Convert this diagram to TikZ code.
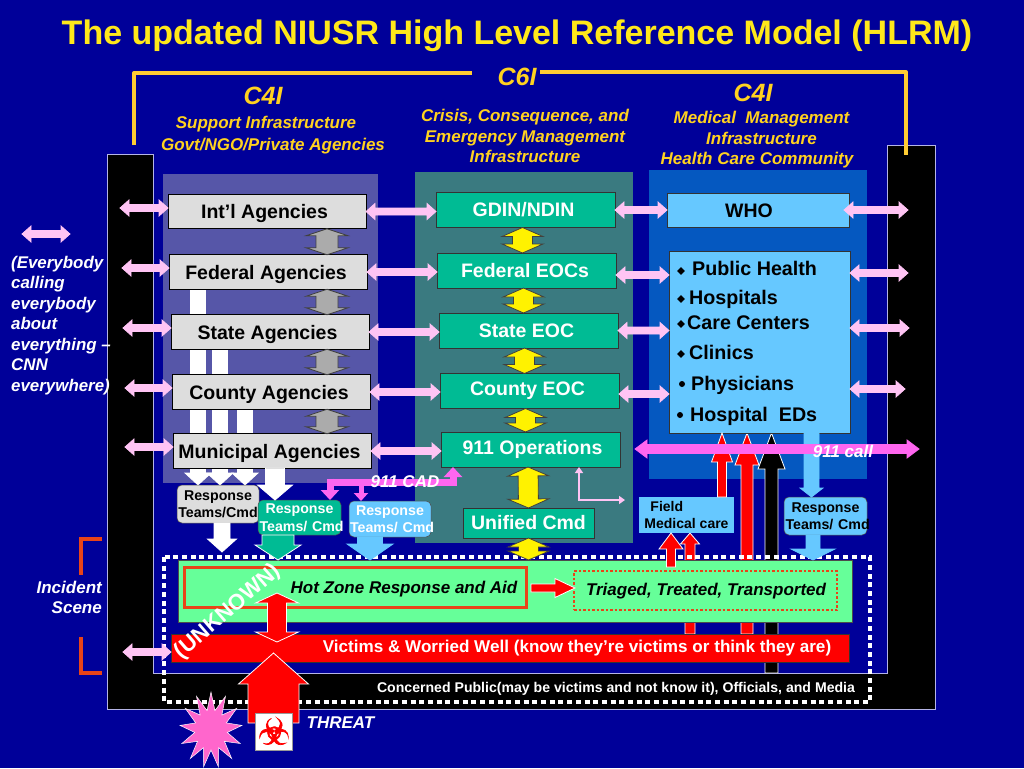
\documentclass[tikz,border=0pt]{standalone}
\usepackage{fontspec}
\setmainfont{Liberation Sans}
\newfontfamily\symfont[FakeBold=2]{DejaVu Sans}
\usepackage{xcolor}
\usepackage{tikz}
\usetikzlibrary{arrows.meta,positioning,calc,backgrounds,shapes.geometric}
\definecolor{bgNavy}{HTML}{000099}
\definecolor{titleGold}{HTML}{FFE81A}
\definecolor{headGold}{HTML}{FFD21F}
\definecolor{bracketGold}{HTML}{FFCC33}
\definecolor{frameLine}{HTML}{B4B4E6}
\definecolor{slatePanel}{HTML}{5656A8}
\definecolor{tealPanel}{HTML}{3A7A80}
\definecolor{bluePanel}{HTML}{0558C0}
\definecolor{boxGray}{HTML}{DDDDDD}
\definecolor{boxGreen}{HTML}{00BB94}
\definecolor{boxSky}{HTML}{66C8FF}
\definecolor{pinkLine}{HTML}{FFC4F4}
\definecolor{magLine}{HTML}{FF66F0}
\definecolor{hotGreen}{HTML}{66FF99}
\definecolor{hotRed}{HTML}{E84418}
\definecolor{burstPink}{HTML}{FF66CC}
\newcommand{\fsz}[2]{\fontsize{#1}{#2}\selectfont}
% fill, outline, half shaft, half head, head length
\tikzset{
  oneway/.style n args={5}{draw=#2,fill=#1,line width=0.8pt,line join=miter,
    to path={-- ($(\tikztostart)!#3pt!90:(\tikztotarget)$)
      -- ($($(\tikztotarget)!#5pt!(\tikztostart)$)!#3pt!90:(\tikztotarget)$)
      -- ($($(\tikztotarget)!#5pt!(\tikztostart)$)!#4pt!90:(\tikztotarget)$)
      -- (\tikztotarget)
      -- ($($(\tikztotarget)!#5pt!(\tikztostart)$)!#4pt!-90:(\tikztotarget)$)
      -- ($($(\tikztotarget)!#5pt!(\tikztostart)$)!#3pt!-90:(\tikztotarget)$)
      -- ($(\tikztostart)!#3pt!-90:(\tikztotarget)$) -- cycle}},
  twoway/.style n args={5}{draw=#2,fill=#1,line width=0.8pt,line join=miter,
    to path={-- ($($(\tikztostart)!#5pt!(\tikztotarget)$)!#4pt!90:(\tikztotarget)$)
      -- ($($(\tikztostart)!#5pt!(\tikztotarget)$)!#3pt!90:(\tikztotarget)$)
      -- ($($(\tikztotarget)!#5pt!(\tikztostart)$)!#3pt!90:(\tikztotarget)$)
      -- ($($(\tikztotarget)!#5pt!(\tikztostart)$)!#4pt!90:(\tikztotarget)$)
      -- (\tikztotarget)
      -- ($($(\tikztotarget)!#5pt!(\tikztostart)$)!#4pt!-90:(\tikztotarget)$)
      -- ($($(\tikztotarget)!#5pt!(\tikztostart)$)!#3pt!-90:(\tikztotarget)$)
      -- ($($(\tikztostart)!#5pt!(\tikztotarget)$)!#3pt!-90:(\tikztotarget)$)
      -- ($($(\tikztostart)!#5pt!(\tikztotarget)$)!#4pt!-90:(\tikztotarget)$) -- cycle}},
  pinkarrow/.style={twoway={pinkLine}{pinkLine}{3.5}{8}{9}},
  grayarrow/.style={twoway={black!33}{black!75}{11}{21}{7}},
  yellowarrow/.style={twoway={yellow}{black!75}{10}{20.5}{9}},
  agencybox/.style={draw=black,line width=0.8pt,fill=boxGray,inner sep=0pt,outer sep=0pt,
    minimum width=198pt,minimum height=34.5pt,text height=14pt,text depth=0pt,font=\bfseries\fsz{19.5}{22}},
  eocbox/.style={draw=black!80,line width=0.8pt,fill=boxGreen,text=white,inner sep=0pt,outer sep=0pt,
    minimum width=179pt,minimum height=35pt,font=\bfseries\fsz{19.5}{22}},
  skybox/.style={draw=black!80,line width=0.8pt,fill=boxSky,inner sep=0pt,outer sep=0pt,font=\bfseries},
  respbox/.style={draw=black!70,line width=0.5pt,rounded corners=5pt,inner sep=0pt,outer sep=0pt,
    minimum height=36pt,text width=80pt,align=center,font=\bfseries\fsz{14.2}{17.5}},
  headtext/.style={text=headGold,font=\bfseries\itshape\fsz{17}{20.5},align=center,inner sep=0pt},
  c4text/.style={text=headGold,font=\bfseries\itshape\fsz{25}{28},inner sep=0pt},
  listtext/.style={anchor=mid west,font=\bfseries\fsz{19.7}{22},inner sep=0pt},
  whitetext/.style={text=white,font=\bfseries\itshape\fsz{17}{20},inner sep=0pt}
}
\begin{document}
\begin{tikzpicture}[x=1pt,y=-1pt]
\useasboundingbox (0,0) rectangle (1024,768);

% title and headers
\node[text=titleGold,font=\bfseries\fsz{34}{38},inner sep=0pt] (titleText) at (517,36) {The updated NIUSR High Level Reference Model (HLRM)};
\node[c4text] (c6Head) at (517,77) {C6I};
\node[c4text] (c4Left) at (263,96) {C4I};
\node[c4text] (c4Right) at (753,93) {C4I};
\node[headtext] (suppText) at (273,135) {\hspace*{-14pt}Support Infrastructure\\[1.5pt]Govt/NGO/Private Agencies};
\node[headtext] (crisisText) at (525,136) {Crisis, Consequence, and\\Emergency Management\\Infrastructure};
\node[headtext] (medText) at (757,140) {\hspace*{9pt}Medical\ \ Management\\\hspace*{9pt}Infrastructure\\Health Care Community};

% agencies
\node[agencybox] (intlBox) at (267,211.5) {Int’l Agencies\hspace*{5pt}};
\node[agencybox] (fedBox) at (268,272) {Federal Agencies\hspace*{4pt}};
\node[agencybox] (stateBox) at (270,332) {State Agencies\hspace*{5pt}};
\node[agencybox] (countyBox) at (271,392) {County Agencies\hspace*{4pt}};
\node[agencybox] (muniBox) at (272,451) {Municipal Agencies\hspace*{5pt}};
% EOCs
\node[eocbox] (gdinBox) at (525.5,210) {GDIN/NDIN\hspace*{4pt}};
\node[eocbox] (fedEoc) at (526.5,270.5) {Federal EOCs\hspace*{3pt}};
\node[eocbox] (stateEoc) at (528.5,330.5) {State EOC\hspace*{4pt}};
\node[eocbox] (countyEoc) at (529.5,391) {County EOC\hspace*{4pt}};
\node[eocbox] (opsBox) at (530.5,449.5) {\hspace*{4pt}911 Operations};
\node[eocbox,minimum width=131pt,minimum height=30pt] (unifiedBox) at (528.5,523) {Unified Cmd};
% medical side
\node[skybox,minimum width=182pt,minimum height=34pt,text height=14pt,text depth=0pt,font=\bfseries\fsz{19.5}{22}] (whoBox) at (758,210) {WHO\hspace*{18pt}};
\node[skybox,minimum width=181pt,minimum height=182pt] (listBox) at (759.5,342) {};
\foreach \nm/\x/\y/\txt in {pubHealth/692/273/Public Health,hospText/689/302/Hospitals,careText/687/327/Care Centers,clinicText/689/357/Clinics,physText/691/388/Physicians,edsText/690/419/Hospital\ \ EDs}
  \node[listtext] (\nm) at (\x,\y) {\txt};
\foreach \nm/\x/\y in {dotA/681/271,dotB/681/299,dotC/681/324,dotD/681/354}
  \node[diamond,fill=black,inner sep=0pt,minimum size=8pt] (\nm) at (\x,\y) {};
\foreach \nm/\x/\y in {dotE/682/384,dotF/680/415}
  \node[circle,fill=black,inner sep=0pt,minimum size=6pt] (\nm) at (\x,\y) {};

% response teams
\node[respbox,fill=boxGray,minimum width=82pt,minimum height=38pt] (respGray) at (218,504) {Response\\Teams/Cmd};
\node[respbox,fill=boxGreen,text=white,minimum width=83pt,minimum height=35pt] (respGreen) at (299.5,517.5) {Response\\Teams/~Cmd};
\node[respbox,fill=boxSky,text=white,minimum width=82pt] (respBlue) at (390,519) {Response\\Teams/~Cmd};
\node[respbox,fill=boxSky,minimum width=83pt,minimum height=38pt] (respRight) at (825.5,516) {Response\\Teams/~Cmd};
\node[skybox,minimum width=95pt,minimum height=36pt,align=left,font=\bfseries\fsz{14}{17.5},draw=none] (fieldBox) at (686.5,515) {\hspace*{6pt}Field\\Medical care};

% incident scene
\node[draw=black!70,line width=0.8pt,fill=hotGreen,minimum width=674pt,minimum height=62pt,inner sep=0pt,outer sep=0pt] (hotZone) at (515,591) {};
\node[draw=hotRed,line width=3pt,minimum width=342pt,minimum height=40pt,inner sep=0pt,outer sep=0pt] (hotInner) at (355,587) {};
\node[font=\bfseries\itshape\fsz{17}{20},inner sep=0pt] (hotText) at (404,589) {Hot Zone Response and Aid};
\node[draw=hotRed,line width=2.5pt,dotted,minimum width=263pt,minimum height=39pt,inner sep=0pt,outer sep=0pt] (triageBox) at (705.5,590.5) {};
\node[font=\bfseries\itshape\fsz{17}{20},inner sep=0pt] (triageText) at (706,591) {Triaged, Treated, Transported};
\node[draw=black!80,line width=0.8pt,fill=red,minimum width=678pt,minimum height=28pt,inner sep=0pt,outer sep=0pt] (victimBar) at (510,648) {};
\node[text=white,font=\bfseries\fsz{17.1}{20},inner sep=0pt] (victimText) at (577,648.5) {Victims \& Worried Well (know they’re victims or think they are)};
\node[text=white,font=\bfseries\fsz{14.1}{16},inner sep=0pt] (publicText) at (616,688.5) {Concerned Public(may be victims and not know it), Officials, and Media};

% free ends
\foreach \nm/\x/\y in {legL/22/234,legR/70/234,blA/120/208,blB/122/268,blC/123/328,blD/125/388,blE/125/447,blF/123/652,
  brA/908/210,brB/908/273,brC/909/328,brD/905/389,cadL/330/482,cadM/361/482,cadR/453/482,callL/635/449,callR/919/449,
  lPink/579/500,lPinkEnd/625/500,redTop/277/593,redBot/277/642,threatBase/273.5/723,threatTip/273.5/653,
  blackBase/771.5/673,redFoot/671/567,whiteTip/222/552,hotArrowA/531/588,hotArrowB/575/588}
  \coordinate (\nm) at (\x,\y);

% all of this stays behind the boxes
\begin{scope}[on background layer]
\fill[bgNavy] (0,0) rectangle (1024,768);
% black frame and the three panels
\filldraw[fill=black,draw=frameLine,line width=1pt] (107,154) -- (153,154) -- (153,673) -- (887,673)
  -- (887,145) -- (935,145) -- (935,709) -- (107,709) -- cycle;
\fill[slatePanel] (163,174) rectangle (378,483);
\fill[tealPanel] (415,172) rectangle (633,543);
\fill[bluePanel] (649,170) rectangle (867,479);
% gold bracket
\draw[bracketGold,line width=4pt,line join=round] (134,145) -- (134,73) -- (472,73);
\draw[bracketGold,line width=4pt,line join=round] (540,72) -- (906,72) -- (906,155);
% red brackets for the scene
\draw[hotRed,line width=3.5pt] (102,539) -- (81,539) -- (81,575);
\draw[hotRed,line width=3.5pt] (81,637) -- (81,673) -- (102,673);
% long arrows
\draw[oneway={white}{white}{7.5}{13}{12}] ([xshift=-70pt]fedBox.south) to ([xshift=-70pt]fedBox.south |- respGray.north);
\draw[oneway={white}{white}{7.5}{13}{12}] ([xshift=-50pt]stateBox.south) to ([xshift=-50pt]stateBox.south |- respGray.north);
\draw[oneway={white}{white}{7.5}{13}{12}] ([xshift=-26pt]countyBox.south) to ([xshift=-26pt]countyBox.south |- respGray.north);
\draw[oneway={red}{white}{5}{9.5}{11}] ([xshift=-69.5pt]listBox.south |- victimBar.north) to ([xshift=-69.5pt]listBox.south |- fieldBox.south);
\draw[oneway={red}{white}{6}{12}{32}] ([xshift=-12.5pt]listBox.south |- victimBar.north) to ([xshift=-12.5pt]listBox.south);
\draw[oneway={black}{white}{6.5}{13.5}{36}] (blackBase) to ([xshift=12pt]listBox.south);
\end{scope}

% white dots round the scene
\draw[white,line width=4pt,dash pattern=on 5pt off 3.7pt] (164,557) rectangle (870,702);

% agency to agency
\draw[pinkarrow] (intlBox.east) to (intlBox.east -| gdinBox.west);
\draw[pinkarrow] (fedBox.east) to (fedBox.east -| fedEoc.west);
\draw[pinkarrow] (stateBox.east) to (stateBox.east -| stateEoc.west);
\draw[pinkarrow] (countyBox.east) to (countyBox.east -| countyEoc.west);
\draw[pinkarrow] (muniBox.east) to (muniBox.east -| opsBox.west);
\draw[pinkarrow] (gdinBox.east) to (gdinBox.east -| whoBox.west);
\draw[pinkarrow] ([yshift=-4.5pt]fedEoc.east) to ([yshift=-4.5pt]fedEoc.east -| listBox.west);
\draw[pinkarrow] (stateEoc.east) to (stateEoc.east -| listBox.west);
\draw[pinkarrow] ([yshift=-3pt]countyEoc.east) to ([yshift=-3pt]countyEoc.east -| listBox.west);
% out to the black frame
\draw[pinkarrow] (legL) to (legR);
\draw[pinkarrow] (blA) to (blA -| intlBox.west);
\draw[pinkarrow] (blB) to (blB -| fedBox.west);
\draw[pinkarrow] (blC) to (blC -| stateBox.west);
\draw[pinkarrow] (blD) to (blD -| countyBox.west);
\draw[pinkarrow] (blE) to (blE -| muniBox.west);
\draw[pinkarrow] (blF) to (blF -| victimBar.west);
\draw[pinkarrow] (brA) to ([xshift=-5pt]brA -| whoBox.east);
\draw[pinkarrow] (brB) to (brB -| listBox.east);
\draw[pinkarrow] (brC) to (brC -| listBox.east);
\draw[pinkarrow] (brD) to (brD -| listBox.east);

% up and down the columns
\draw[grayarrow] ([xshift=60pt]intlBox.south) to ([xshift=59pt]fedBox.north);
\draw[grayarrow] ([xshift=59pt]fedBox.south) to ([xshift=57pt]stateBox.north);
\draw[grayarrow] ([xshift=57pt]stateBox.south) to ([xshift=56pt]countyBox.north);
\draw[grayarrow] ([xshift=56pt]countyBox.south) to ([xshift=55pt]muniBox.north);
\draw[yellowarrow] ([xshift=-3pt]gdinBox.south) to ([xshift=-4pt]fedEoc.north);
\draw[yellowarrow] ([xshift=-3pt]fedEoc.south) to ([xshift=-5pt]stateEoc.north);
\draw[yellowarrow] ([xshift=-4pt]stateEoc.south) to ([xshift=-5pt]countyEoc.north);
\draw[yellowarrow] ([xshift=-4pt]countyEoc.south) to ([xshift=-5pt]opsBox.north);
\draw[yellowarrow] ([xshift=-2.5pt]opsBox.south) to (unifiedBox.north);
\draw[yellowarrow] (unifiedBox.south) to (unifiedBox.south |- hotZone.north);

% white and coloured drops
\draw[oneway={white}{white}{9.5}{17.5}{15}] ([xshift=3pt]muniBox.south) to ([xshift=3pt]muniBox.south |- respGreen.north);
\draw[oneway={white}{white}{8}{14.5}{13}] ([xshift=4pt]respGray.south) to (whiteTip);
\draw[oneway={boxGreen}{white}{16}{23}{15}] ([xshift=-21.5pt]respGreen.south) to ([xshift=-21.5pt]respGreen.south |- hotZone.north);
\draw[oneway={boxSky}{boxSky}{12.5}{23}{16}] ([xshift=-20pt]respBlue.south) to ([xshift=-20pt]respBlue.south |- hotZone.north);
\draw[oneway={boxSky}{boxSky}{7.5}{11.5}{9}] ([xshift=52pt]listBox.south) to ([xshift=52pt]listBox.south |- respRight.north);
\draw[oneway={boxSky}{boxSky}{7}{22}{11}] ([xshift=-12.5pt]respRight.south) to ([xshift=-12.5pt]respRight.south |- hotZone.north);
\draw[oneway={red}{white}{4.5}{10.5}{29}] ([xshift=-37.5pt]listBox.south |- fieldBox.north) to ([xshift=-37.5pt]listBox.south);
\draw[oneway={red}{white}{4.5}{12}{16}] (redFoot) to (redFoot |- fieldBox.south);
\draw[oneway={red}{white}{4}{9.5}{20}] (hotArrowA) to (hotArrowB);

% the magenta 911 lines
\draw[magLine,line width=7pt,-{Triangle[width=18pt,length=10pt]}] (cadL) -- (cadR) -- (cadR |- opsBox.south);
\draw[magLine,line width=7pt,-{Triangle[width=18pt,length=10pt]}] ([yshift=3.5pt]cadL) -- (cadL |- respGreen.north);
\draw[magLine,line width=5pt,-{Triangle[width=14pt,length=8pt]}] (cadM) -- (cadM |- respBlue.north);
\draw[twoway={magLine}{magLine}{4.5}{9}{12}] (callL) to (callR);
\draw[pinkLine,line width=2.5pt,{Triangle[width=8pt,length=6pt]}-{Triangle[width=8pt,length=6pt]}] (lPink |- opsBox.south) -- (lPink) -- (lPinkEnd);
\node[whitetext] (cadText) at (405,482) {911 CAD};
\node[whitetext] (callText) at (843,451) {911 call};

% threat
\draw[twoway={red}{white}{9.5}{21.5}{10}] (redTop) to (redBot);
\draw[oneway={red}{white}{25.5}{35}{31}] (threatBase) to (threatTip);
\node[draw=black!40,fill=white,minimum size=37pt,inner sep=0pt,text=red,font=\symfont\fsz{36}{38}] (bioBox) at (274,731.5) {☣};
\node[star,star points=13,star point ratio=1.9,fill=burstPink,draw=white,line width=0.5pt,minimum size=76pt,inner sep=0pt,transform shape,xscale=0.82] (burstStar) at (211,730) {};
\node[whitetext] (threatText) at (340.5,723) {THREAT};
\node[text=white,font=\bfseries\fsz{22}{24},rotate=41,inner sep=0pt] (unknownText) at (228,612) {(UNKNOWN)};

% side notes
\node[whitetext,anchor=north west,align=left,font=\bfseries\itshape\fsz{16.9}{20.5}] (callingText) at (11,256) {(Everybody\\calling\\everybody\\about\\everything --\\CNN\\everywhere)};
\node[whitetext,align=right,anchor=east] (sceneText) at (102,597) {Incident\\Scene};
\end{tikzpicture}
\end{document}
